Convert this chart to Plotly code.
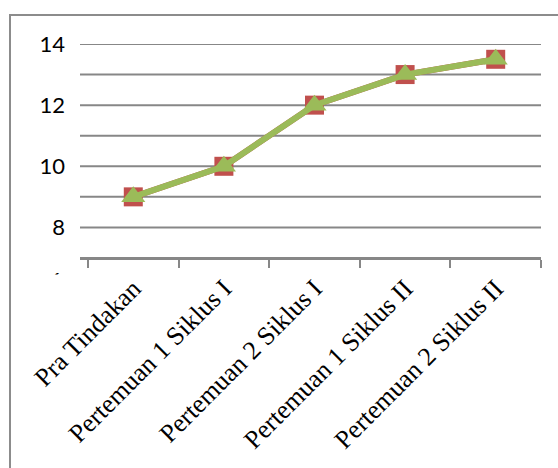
import plotly.graph_objects as go

# Stage names along the category axis
stages = [
    "Pra Tindakan",
    "Pertemuan 1 Siklus I",
    "Pertemuan 2 Siklus I",
    "Pertemuan 1 Siklus II",
    "Pertemuan 2 Siklus II",
]

# Scores per stage (two series plotted on top of each other)
series_red = [9, 10, 12, 13, 13.5]
series_green = [9, 10, 12, 13, 13.5]

y_ticks = [8, 10, 12, 14]

RED = "#C0504D"
GREEN = "#9BBB59"
GRID = "#878787"

fig = go.Figure()

fig.add_trace(go.Scatter(
    x=stages, y=series_red, mode="lines+markers",
    line=dict(color=RED, width=6),
    marker=dict(symbol="square", size=19, color=RED),
    showlegend=False, cliponaxis=False,
))
fig.add_trace(go.Scatter(
    x=stages, y=series_green, mode="lines+markers",
    line=dict(color=GREEN, width=6),
    marker=dict(symbol="triangle-up", size=21, color=GREEN),
    showlegend=False, cliponaxis=False,
))

n = len(stages)
fig.update_xaxes(
    type="category",
    categoryorder="array", categoryarray=stages,
    range=[-0.5 - 8 / 90.75, n - 0.5],
    tickson="boundaries",
    ticks="outside", ticklen=8, tickwidth=2, tickcolor=GRID,
    showline=True, linecolor=GRID, linewidth=2,
    showgrid=False,
    tickangle=-45,
    tickfont=dict(family="Liberation Serif", size=26, color="black"),
    ticklabelstandoff=3,
)
fig.update_yaxes(
    range=[7, 14],
    tickvals=y_ticks,
    showgrid=False,
    showline=False, zeroline=False,
    ticks="",
    tickfont=dict(family="Lato", size=22, color="black"),
    ticklabelstandoff=14,
)

# Horizontal gridlines at every whole unit
shapes = []
for v in range(7, 15):
    shapes.append(dict(
        type="line", xref="paper", yref="y", x0=0, x1=1, y0=v, y1=v,
        line=dict(color=GRID, width=2), layer="below",
    ))

# Chart frame running off the right and bottom edges
W, H = 558, 468
ml, mr, mt, mb = 80, 17, 44, 210
pw, ph = W - ml - mr, H - mt - mb
def px_to_paper_x(px):
    return (px - ml) / pw
def px_to_paper_y(py):
    return (H - mb - py) / ph
shapes.append(dict(
    type="rect", xref="paper", yref="paper",
    x0=px_to_paper_x(10), x1=px_to_paper_x(600),
    y0=px_to_paper_y(520), y1=px_to_paper_y(15),
    line=dict(color="#8C8C8C", width=2), fillcolor="rgba(0,0,0,0)", layer="below",
))

annotations = [
    # lowest axis value, mostly hidden below the axis
    dict(text="6", xref="paper", yref="paper",
         x=px_to_paper_x(64), y=px_to_paper_y(264),
         xanchor="right", yanchor="top", showarrow=False,
         font=dict(family="Lato", size=22, color="black")),
    dict(text=" ", xref="paper", yref="paper",
         x=px_to_paper_x(40), y=px_to_paper_y(274),
         xanchor="left", yanchor="top", showarrow=False,
         width=34, height=30, bgcolor="white",
         font=dict(size=10)),
]

fig.update_layout(
    width=W, height=H, autosize=False,
    margin=dict(l=ml, r=mr, t=mt, b=mb, pad=0),
    paper_bgcolor="white", plot_bgcolor="white",
    shapes=shapes, annotations=annotations,
)

fig.write_html("out.html")
